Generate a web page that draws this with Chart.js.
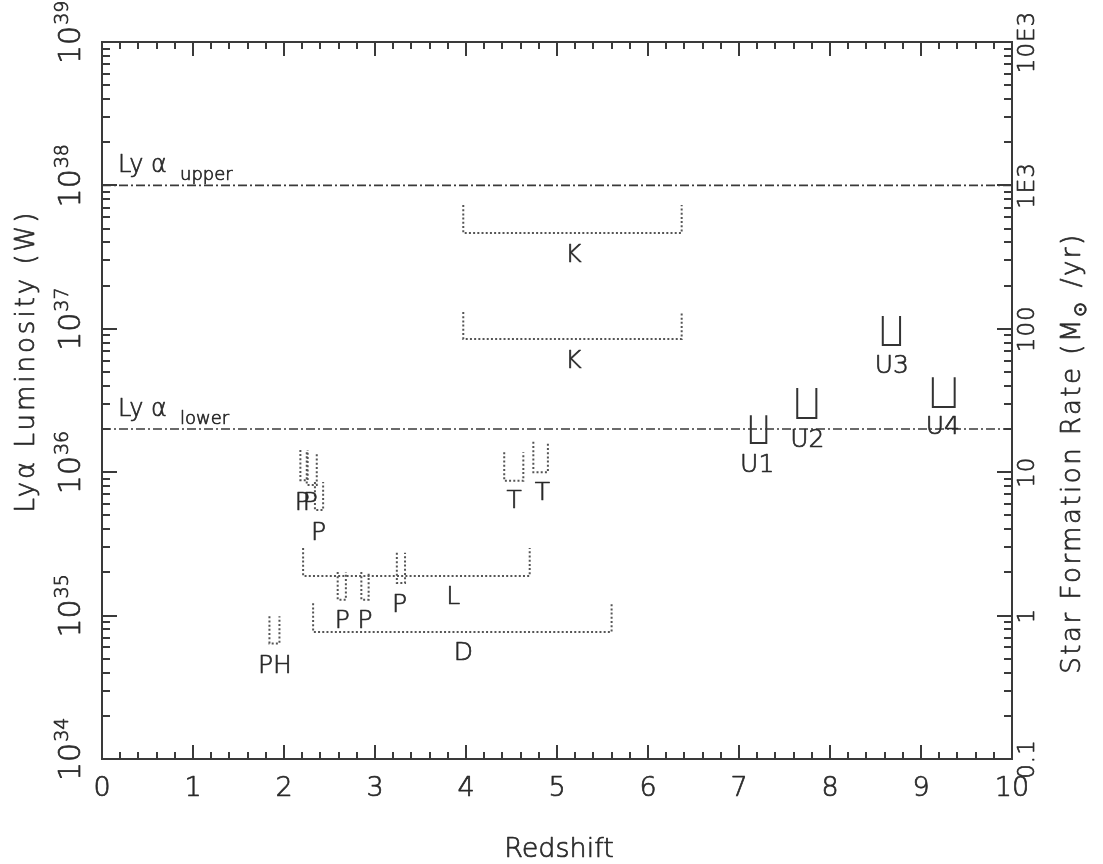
<!DOCTYPE html>
<html><head><meta charset="utf-8">
<script src="https://cdn.jsdelivr.net/npm/chart.js@4.4.1/dist/chart.umd.min.js"></script>
<style>html,body{margin:0;padding:0;background:#fff;overflow:hidden}canvas{display:block}</style>
</head><body>
<canvas id="c" width="1103" height="864"></canvas>
<script>
// ---- data ----
const xTickValues = [0,1,2,3,4,5,6,7,8,9,10];
const yTickExponents = [34,35,36,37,38,39];
const sfrTickValues = [0.1,1,10,100,1000,10000];
const sfrTickLabels = ['0.1','1','10','100','1E3','10E3'];

const lyaLevels = [1e38, 2e36];
const lyaNames = ['upper','lower'];

const bracketNames  = ['K','K','U1','U2','U3','U4','T','T','P','P','P','L','P','P','P','D','PH'];
const bracketXLow   = [3.97,3.97,7.13,7.64,8.58,9.13,4.42,4.74,2.18,2.25,2.34,2.21,2.59,2.85,3.24,2.32,1.84];
const bracketXHigh  = [6.37,6.37,7.30,7.85,8.77,9.37,4.63,4.90,2.26,2.36,2.43,4.70,2.68,2.93,3.33,5.60,1.95];
const bracketTop    = [7.3e37,1.31e37,2.5e36,3.86e36,1.23e37,4.6e36,1.38e36,1.63e36,1.43e36,1.38e36,8.55e35,2.96e35,2.01e35,2.01e35,2.74e35,1.22e35,9.9e34];
const bracketBottom = [4.66e37,8.5e36,1.6e36,2.39e36,7.7e36,2.85e36,8.7e35,1.0e36,8.8e35,8.15e35,5.45e35,1.89e35,1.29e35,1.29e35,1.69e35,7.7e34,6.4e34];
const labelX = [5.18,5.18,7.20,7.75,8.68,9.24,4.53,4.84,2.20,2.29,2.38,3.86,2.64,2.89,3.27,3.97,1.90];
const labelY = [2.92e37,5.33e36,1.0e36,1.5e36,4.92e36,1.85e36,5.62e35,6.4e35,5.45e35,5.45e35,3.37e35,1.2e35,8.2e34,8.2e34,1.06e35,4.9e34,3.98e34];

// ---- styling ----
const FONT = '"DejaVu Sans", sans-serif';
const W = '300 ';
const INK = '#3a3a3a';
const TXT = '#2a2a2a';

const datasets = [];
lyaLevels.forEach((v) => {
  datasets.push({
    data: [{x: 0, y: v}, {x: 10, y: v}],
    showLine: true, pointRadius: 0, borderColor: INK, borderWidth: 1.6,
    borderDash: [9, 3, 2, 3], borderCapStyle: 'butt'
  });
});
bracketNames.forEach((n, i) => {
  const solid = n.startsWith('U');
  datasets.push({
    data: [
      {x: bracketXLow[i], y: bracketTop[i]},
      {x: bracketXLow[i], y: bracketBottom[i]},
      {x: bracketXHigh[i], y: bracketBottom[i]},
      {x: bracketXHigh[i], y: bracketTop[i]}
    ],
    showLine: true, pointRadius: 0, tension: 0,
    borderColor: solid ? '#333' : '#555',
    borderWidth: 2,
    borderDash: solid ? [] : [2, 2.2],
    borderCapStyle: 'butt', borderJoinStyle: 'miter'
  });
});

function txt(ctx, t, x, y) {
  ctx.fillText(t, x, y);
  ctx.strokeText(t, x, y);
}
function rotText(ctx, x, y, parts) {
  ctx.save();
  ctx.translate(x, y);
  ctx.rotate(-Math.PI / 2);
  let cx = 0;
  parts.forEach(p => {
    ctx.font = p.font;
    ctx.letterSpacing = p.ls || '0px';
    txt(ctx, p.t, cx, p.dy || 0);
    cx += ctx.measureText(p.t).width + (p.gap || 0);
  });
  ctx.restore();
}
function rotWidth(ctx, parts) {
  let w = 0;
  parts.forEach(p => { ctx.font = p.font; ctx.letterSpacing = p.ls || '0px'; w += ctx.measureText(p.t).width + (p.gap || 0); });
  return w;
}

const decor = {
  id: 'decor',
  afterDraw(chart) {
    const ctx = chart.ctx;
    const a = chart.chartArea;
    const xs = chart.scales.x, ys = chart.scales.y, y2 = chart.scales.y2;
    ctx.save();
    ctx.strokeStyle = INK; ctx.fillStyle = TXT; ctx.lineWidth = 2;
    ctx.strokeRect(a.left, a.top, a.right - a.left, a.bottom - a.top);
    ctx.beginPath();
    for (let i = 0; i <= 50; i++) {
      const v = xTickValues[0] + i * 0.2;
      const px = Math.round(xs.getPixelForValue(v));
      const L = (i % 5 === 0) ? 14 : 7;
      ctx.moveTo(px, a.bottom); ctx.lineTo(px, a.bottom - L);
      ctx.moveTo(px, a.top); ctx.lineTo(px, a.top + L);
    }
    yTickExponents.forEach((e, k) => {
      for (let m = 1; m <= 9; m++) {
        if (k === yTickExponents.length - 1 && m > 1) break;
        const py = Math.round(ys.getPixelForValue(m * Math.pow(10, e)));
        const L = m === 1 ? 15 : 8;
        ctx.moveTo(a.left, py); ctx.lineTo(a.left + L, py);
      }
    });
    sfrTickValues.forEach((v, k) => {
      for (let m = 1; m <= 9; m++) {
        if (k === sfrTickValues.length - 1 && m > 1) break;
        const py = Math.round(y2.getPixelForValue(m * v));
        const L = m === 1 ? 15 : 8;
        ctx.moveTo(a.right, py); ctx.lineTo(a.right - L, py);
      }
    });
    ctx.stroke();

    // text: light face thickened slightly by a thin stroke
    ctx.strokeStyle = TXT; ctx.lineWidth = 0.7; ctx.lineJoin = 'round';

    ctx.font = W + '27px ' + FONT; ctx.textAlign = 'center'; ctx.textBaseline = 'alphabetic';
    xTickValues.forEach(v => txt(ctx, String(v), xs.getPixelForValue(v), a.bottom + 37));
    ctx.font = W + '27px ' + FONT;
    txt(ctx, 'Redshift', (a.left + a.right) / 2 + 2, 857);

    ctx.textAlign = 'left';
    yTickExponents.forEach(e => {
      const py = ys.getPixelForValue(Math.pow(10, e));
      rotText(ctx, 80, py + 22, [
        {t: '10', font: W + '30px ' + FONT, gap: 1},
        {t: String(e), font: W + '19px ' + FONT, dy: -12}
      ]);
    });
    const lt = [{t: 'Ly\u03b1 Luminosity (W)', font: W + '26px ' + FONT, ls: '3px'}];
    const ltw = rotWidth(ctx, lt);
    rotText(ctx, 34, 361 + ltw / 2, lt);

    sfrTickLabels.forEach((s, k) => {
      const py = y2.getPixelForValue(sfrTickValues[k]);
      const parts = [{t: s, font: W + '23px ' + FONT, ls: '1px'}];
      const w = rotWidth(ctx, parts);
      rotText(ctx, 1034, py + w / 2, parts);
    });
    const rt = [
      {t: 'Star Formation Rate (M', font: W + '26px ' + FONT, ls: '2.5px'},
      {t: '\u2299', font: W + '18px ' + FONT, dy: 6, gap: 4},
      {t: ' /yr)', font: W + '26px ' + FONT, ls: '2.5px'}
    ];
    const rtw = rotWidth(ctx, rt);
    rotText(ctx, 1080, 453 + rtw / 2, rt);

    lyaLevels.forEach((v, k) => {
      const py = ys.getPixelForValue(v);
      ctx.font = W + '24px ' + FONT; ctx.letterSpacing = '0px';
      txt(ctx, 'Ly \u03b1', 118, py - 13);
      ctx.font = W + '18px ' + FONT;
      txt(ctx, lyaNames[k], 180, py - 5);
    });

    ctx.textAlign = 'center';
    ctx.font = W + '25px ' + FONT; ctx.letterSpacing = '0px';
    bracketNames.forEach((n, i) => {
      txt(ctx, n, xs.getPixelForValue(labelX[i]), ys.getPixelForValue(labelY[i]));
    });
    ctx.restore();
  }
};

new Chart(document.getElementById('c'), {
  type: 'scatter',
  data: {datasets},
  options: {
    responsive: false, animation: false, devicePixelRatio: 1,
    layout: {padding: {left: 102, right: 91, top: 42, bottom: 105}},
    plugins: {legend: {display: false}, tooltip: {enabled: false}},
    scales: {
      x: {type: 'linear', min: 0, max: 10, display: false},
      y: {type: 'logarithmic', min: 1e34, max: 1e39, display: false},
      y2: {type: 'logarithmic', position: 'right', min: 0.1, max: 1e4, display: false}
    }
  },
  plugins: [decor]
});
</script>
</body></html>
